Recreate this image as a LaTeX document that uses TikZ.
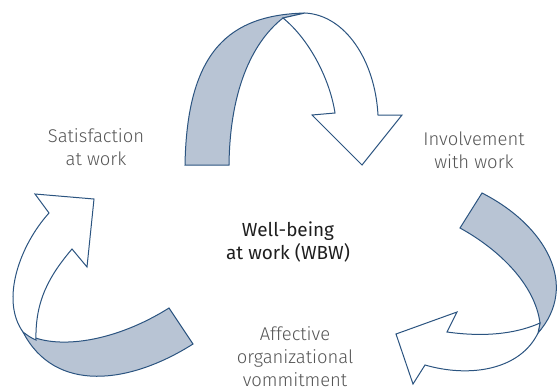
\documentclass[tikz,border=0pt]{standalone}
\usepackage{fontspec}
\setmainfont{Fira Sans Light}
\newfontfamily\regfont{Fira Sans}
\definecolor{edge}{HTML}{2B5480}
\definecolor{band}{HTML}{B8C4D4}
\definecolor{lbl}{HTML}{555555}
\definecolor{ctr}{HTML}{1E1E1E}
\begin{document}
\begin{tikzpicture}[x=1bp,y=-1bp,
  outline/.style={draw=edge,line width=1bp,line join=miter},
  shade/.style={outline,fill=band},
  blank/.style={outline,fill=white},
  lab/.style={align=center,text=lbl,font=\fontsize{18.5}{23}\selectfont,inner sep=0pt},
  mid/.style={align=center,text=ctr,font=\regfont\fontsize{19}{24}\selectfont,inner sep=0pt}]
\useasboundingbox (0,0) rectangle (557,391);
% top arrow
\path[shade] (185,165) -- (229,165) .. controls (230,85) and (255,40) .. (283,18)
  -- (305,13) .. controls (230,15) and (187,50) .. (185,165) -- cycle;
\path[blank] (283,18) .. controls (310,40) and (330,80) .. (335,113) -- (312,115)
  -- (362,165) -- (402,115) -- (378,115) .. controls (375,60) and (345,15) .. (305,13) -- cycle;
% left arrow
\path[shade] (23,332) .. controls (50,350) and (110,345) .. (169,308) -- (193,344)
  .. controls (130,384) and (55,394) .. (23,332) -- cycle;
\path[blank] (36,340) .. controls (35,300) and (50,275) .. (72,249) -- (87,267) -- (94,199)
  -- (35,194) -- (49,213) .. controls (20,245) and (0,300) .. (23,332)
  .. controls (27,335) and (31,338) .. (36,340) -- cycle;
% right arrow
\path[shade] (482,193) -- (460,228) .. controls (500,250) and (535,285) .. (540,323)
  -- (538,333) .. controls (580,285) and (545,225) .. (482,193) -- cycle;
\path[blank] (540,323) .. controls (520,332) and (490,338) .. (447,332) -- (457,312)
  -- (396,334) -- (413,384) -- (425,365) .. controls (470,378) and (520,370) .. (538,333) -- cycle;
% labels
\node[lab] (sat) at (96,147) {Satisfaction\\at work};
\node[lab] (inv) at (474,150) {Involvement\\with work};
\node[mid] (wbw) at (288,242) {Well-being\\at work (WBW)};
\node[lab] (aff) at (295,357) {Affective\\organizational\\vommitment};
\end{tikzpicture}
\end{document}
